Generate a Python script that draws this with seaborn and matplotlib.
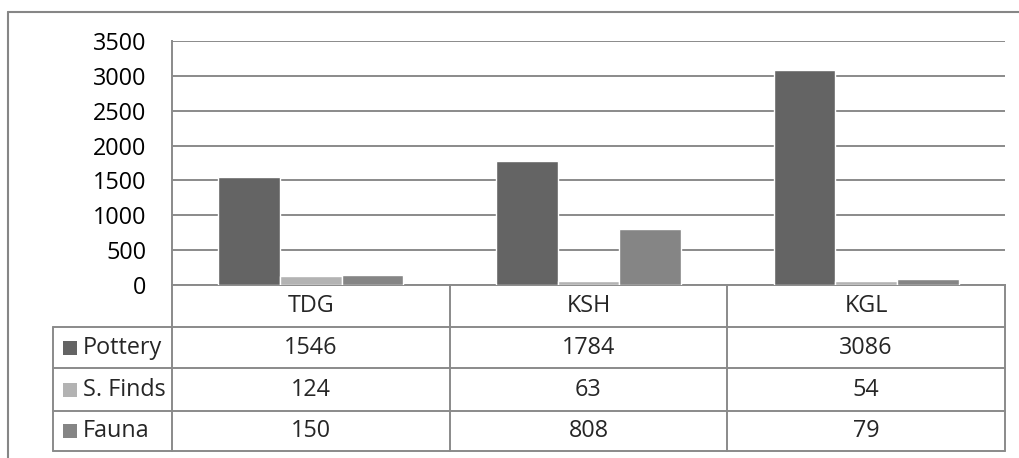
import matplotlib
matplotlib.use("Agg")
import matplotlib.pyplot as plt
from matplotlib.lines import Line2D
from matplotlib.patches import Rectangle
import pandas as pd
import seaborn as sns

# Finds per site
sites = ["TDG", "KSH", "KGL"]
series_names = ["Pottery", "S. Finds", "Fauna"]
pottery = [1546, 1784, 3086]
small_finds = [124, 63, 54]
fauna = [150, 808, 79]
y_ticks = [0, 500, 1000, 1500, 2000, 2500, 3000, 3500]

colors = ["#646464", "#b3b3b3", "#858585"]
line_col = "#8a8a8a"

series_values = [pottery, small_finds, fauna]
df = pd.DataFrame(
    [(s, name, v) for name, vals in zip(series_names, series_values) for s, v in zip(sites, vals)],
    columns=["site", "type", "count"],
)

sns.set_style("white")
plt.rcParams["font.family"] = ["Open Sans", "DejaVu Sans"]

W, H = 1019, 458
fig = plt.figure(figsize=(W / 100, H / 100), dpi=100)
fig.patch.set_facecolor("white")

# plot area in pixels
px_l, px_r, px_t, px_b = 172, 1005, 41, 285
ax = fig.add_axes([px_l / W, (H - px_b) / H, (px_r - px_l) / W, (px_b - px_t) / H])

sns.barplot(
    data=df, x="site", y="count", hue="type", hue_order=series_names,
    order=sites, palette=colors, saturation=1, width=0.667, gap=0,
    legend=False, ax=ax, zorder=3,
)

fs = 16.8

ax.set_ylim(0, 3500)
ax.set_xlim(-0.5, len(sites) - 0.5)
ax.set_yticks(y_ticks)
ax.set_yticklabels([str(t) for t in y_ticks])
ax.set_xticks([])
ax.set_xlabel("")
ax.set_ylabel("")
ax.tick_params(axis="y", length=0, pad=18.5, labelsize=fs, labelcolor="black")
ax.yaxis.grid(True, color=line_col, lw=1.4, zorder=0)
ax.set_axisbelow(True)
for side in ["top", "right"]:
    ax.spines[side].set_visible(False)
for side in ["left", "bottom"]:
    ax.spines[side].set_color(line_col)
    ax.spines[side].set_linewidth(1.4)

# data table beneath the plot
ax_h = px_b - px_t
row_px = [285, 327, 368, 411, 451]
row_y = [-(y - px_b) / ax_h for y in row_px]
lbl_x = (53 - px_l) / (px_r - px_l)
n = len(sites)
col_x = [i / n for i in range(n + 1)]

tr = ax.transAxes
kw = dict(color=line_col, lw=1.4, transform=tr, clip_on=False)
for y in row_y[1:]:
    ax.add_line(Line2D([lbl_x, 1], [y, y], **kw))
ax.add_line(Line2D([lbl_x, lbl_x], [row_y[1], row_y[-1]], **kw))
for x in col_x:
    ax.add_line(Line2D([x, x], [row_y[0], row_y[-1]], **kw))

for i, s in enumerate(sites):
    xc = (col_x[i] + col_x[i + 1]) / 2
    ax.text(xc, (row_y[0] + row_y[1]) / 2, s, ha="center", va="center",
            fontsize=fs, transform=tr, clip_on=False)

sw_w = 14 / (px_r - px_l)
sw_h = 14 / ax_h
sw_x = (63 - px_l) / (px_r - px_l)
txt_x = (83 - px_l) / (px_r - px_l)
for r, (name, vals, c) in enumerate(zip(series_names, series_values, colors)):
    yc = (row_y[r + 1] + row_y[r + 2]) / 2
    ax.add_patch(Rectangle((sw_x, yc - sw_h / 2), sw_w, sw_h, facecolor=c,
                           edgecolor="none", transform=tr, clip_on=False))
    ax.text(txt_x, yc, name, ha="left", va="center", fontsize=fs,
            transform=tr, clip_on=False)
    for i, v in enumerate(vals):
        xc = (col_x[i] + col_x[i + 1]) / 2
        ax.text(xc, yc, str(v), ha="center", va="center", fontsize=fs,
                transform=tr, clip_on=False)

# outer chart frame (top and left edges)
fkw = dict(color="#868686", lw=1.5, transform=fig.transFigure)
fig.add_artist(Line2D([8 / W, 1], [(H - 12) / H, (H - 12) / H], **fkw))
fig.add_artist(Line2D([8 / W, 8 / W], [0, (H - 12) / H], **fkw))

fig.savefig("out.png", dpi=100, facecolor="white")
